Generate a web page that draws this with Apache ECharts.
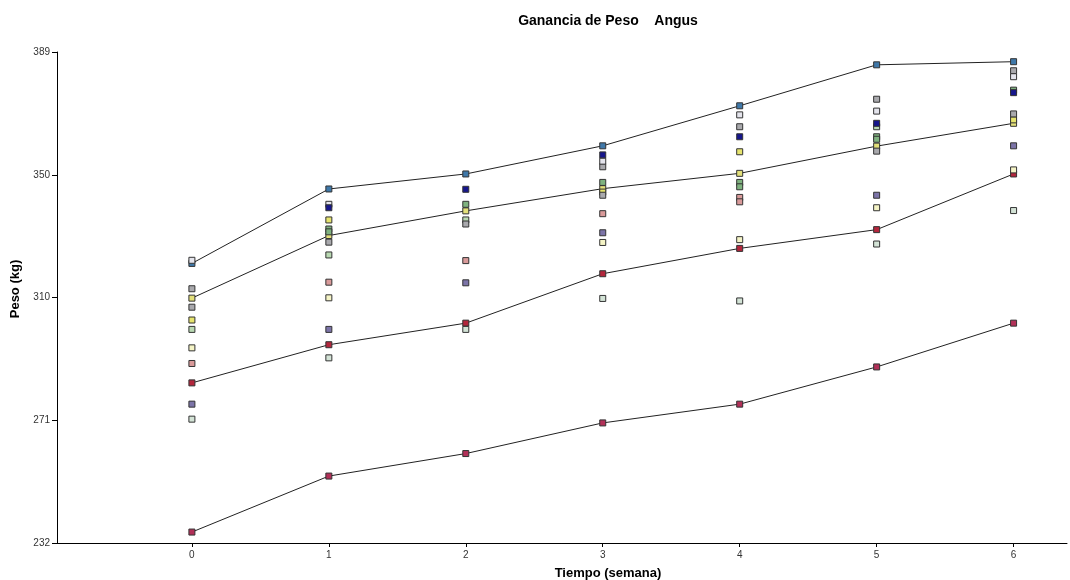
<!DOCTYPE html>
<html>
<head>
<meta charset="utf-8">
<script src="https://cdn.jsdelivr.net/npm/echarts@6/dist/echarts.min.js"></script>
<style>html,body{margin:0;padding:0;background:#fff}#c{width:1070px;height:580px}</style>
</head>
<body>
<div id="c"></div>
<script>
// ---- data ----
const weeks = [0, 1, 2, 3, 4, 5, 6];
const xTickLabels = ['0', '1', '2', '3', '4', '5', '6'];
const yTickValues = [232, 271.25, 310.5, 349.75, 389];
const yTickLabels = ['232', '271', '310', '350', '389'];

// highlighted animals (lines)
const lineTop    = [321.4, 345.2, 350.0, 359.0, 371.8, 384.9, 385.9];
const lineSecond = [310.3, 330.3, 338.2, 345.3, 350.2, 358.9, 366.2];
const lineThird  = [283.2, 295.4, 302.3, 318.1, 326.2, 332.2, 350.0];
const lineBottom = [235.5, 253.4, 260.6, 270.4, 276.4, 288.3, 302.3];

// other animals: [week, weight]
const navyPts = [[1,339.2],[2,345.1],[3,356.1],[4,361.9],[5,366.2],[6,376.0]];
const whitePts = [[0,322.4],[1,340.3],[3,354.1],[4,368.9],[5,370.1],[6,381.1]];
const grayPts = [[0,313.3],[0,307.4],[1,328.2],[2,334.0],[3,352.3],[3,343.2],[4,365.1],[5,373.9],[5,357.3],[6,383.0],[6,369.2]];
const yellowPts = [[0,303.3],[1,335.3],[3,344.2],[4,357.1],[6,367.3]];
const lightYellowPts = [[0,294.4],[1,310.4],[3,328.1],[4,329.0],[5,339.2],[6,351.3]];
const greenPts = [[1,332.4],[1,331.5],[2,340.3],[3,347.3],[4,347.3],[4,345.9],[5,361.9],[5,361.1],[6,376.8]];
const lightGreenPts = [[0,300.3],[1,324.1],[2,335.3],[5,365.1]];
const pinkPts = [[0,289.4],[1,315.4],[2,322.3],[3,337.3],[4,342.5],[4,341.1]];
const purplePts = [[0,276.4],[1,300.3],[2,315.2],[3,331.2],[5,343.2],[6,359.0]];
const mintPts = [[0,271.6],[1,291.2],[2,300.3],[3,310.2],[4,309.4],[5,327.6],[6,338.3]];

// ---- chart ----
const FONT = 'Liberation Sans, Arial, sans-serif';
const chart = echarts.init(document.getElementById('c'), null, {renderer: 'canvas'});

function lineSeries(vals, color) {
  return {
    type: 'line',
    data: weeks.map((w, i) => [w, vals[i]]),
    symbol: 'rect', symbolSize: 6, showSymbol: true,
    lineStyle: {color: '#222', width: 1},
    itemStyle: {color: color, borderColor: '#333', borderWidth: 1},
    z: 3, animation: false, silent: true
  };
}
function scatterSeries(pts, color) {
  return {
    type: 'scatter', data: pts, symbol: 'rect', symbolSize: 6,
    itemStyle: {color: color, borderColor: '#333', borderWidth: 1, opacity: 1},
    z: 4, animation: false, silent: true
  };
}

chart.setOption({
  backgroundColor: '#ffffff',
  animation: false,
  title: [
    {text: 'Ganancia de Peso    Angus', left: 603, top: 9, textAlign: 'center',
     textStyle: {fontFamily: FONT, fontSize: 14, fontWeight: 'bold', color: '#000'}},
    {text: 'Tiempo (semana)', left: 603, top: 562, textAlign: 'center',
     textStyle: {fontFamily: FONT, fontSize: 13, fontWeight: 'bold', color: '#000'}}
  ],
  graphic: [{
    type: 'text', x: 15, y: 289, rotation: Math.PI / 2,
    style: {text: 'Peso (kg)', font: 'bold 13px ' + FONT, fill: '#000', align: 'center', verticalAlign: 'middle'}
  }],
  grid: {left: 57, right: 3, top: 52, bottom: 37, containLabel: false},
  xAxis: {
    type: 'value', min: -0.985, max: 6.39,
    axisLine: {show: true, onZero: false, lineStyle: {color: '#000', width: 1}},
    axisTick: {show: true, length: 4, customValues: weeks, lineStyle: {color: '#000'}},
    axisLabel: {customValues: weeks, formatter: v => xTickLabels[weeks.indexOf(Math.round(v))],
      fontFamily: FONT, fontSize: 10, color: '#333', margin: 7},
    splitLine: {show: false}
  },
  yAxis: {
    type: 'value', min: 232, max: 389,
    axisLine: {show: true, onZero: false, lineStyle: {color: '#000', width: 1}},
    axisTick: {show: true, length: 5, customValues: yTickValues, lineStyle: {color: '#000'}},
    axisLabel: {customValues: yTickValues,
      formatter: v => yTickLabels[yTickValues.findIndex(t => Math.abs(t - v) < 0.01)],
      fontFamily: FONT, fontSize: 10, color: '#333', margin: 7},
    splitLine: {show: false}
  },
  series: [
    scatterSeries(mintPts, '#d3e3d6'),
    scatterSeries(purplePts, '#7c74a8'),
    scatterSeries(pinkPts, '#d99a9a'),
    scatterSeries(lightGreenPts, '#b9d9b2'),
    scatterSeries(greenPts, '#7fb27f'),
    scatterSeries(lightYellowPts, '#f5f4c6'),
    scatterSeries(yellowPts, '#e6e46e'),
    scatterSeries(grayPts, '#a9a9ad'),
    scatterSeries(whitePts, '#e4e4ec'),
    scatterSeries(navyPts, '#16168c'),
    lineSeries(lineTop, '#3f78a9'),
    lineSeries(lineSecond, '#e3e07a'),
    lineSeries(lineThird, '#b3263c'),
    lineSeries(lineBottom, '#b23058')
  ]
});
</script>
</body>
</html>
